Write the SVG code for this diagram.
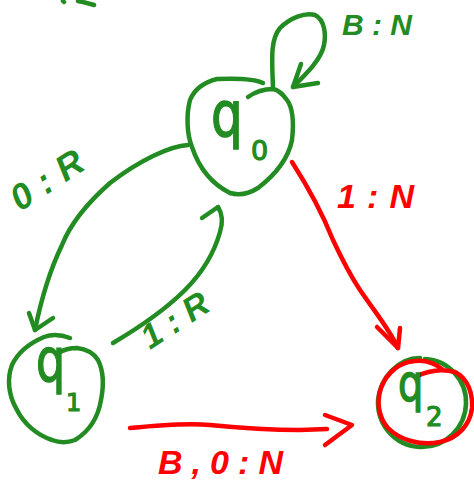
<svg xmlns="http://www.w3.org/2000/svg" width="474" height="480" viewBox="0 0 474 480">
<style>
.g{fill:none;stroke:#228b22;stroke-width:4.5;stroke-linecap:round;stroke-linejoin:round}
.r{fill:none;stroke:#f00;stroke-width:4.5;stroke-linecap:round;stroke-linejoin:round}
.q{font-family:"DejaVu Sans",sans-serif;fill:#228b22;stroke:#228b22;stroke-width:1.2}
.lg{font-family:"Liberation Sans",sans-serif;font-weight:bold;font-style:italic;fill:#228b22}
.lr{font-family:"Liberation Sans",sans-serif;font-weight:bold;font-style:italic;fill:#f00}
</style>
<rect width="474" height="480" fill="#fff"/>
<path class="g" d="M63,1 L64,2 M78,1 Q88,3 94,5"/>
<g id="connectors">
<g id="e-q0-q0">
<path class="g" d="M273,88 C272,60 270,40 280,28 C290,18 305,12 315,15 C325,20 326,35 324,45 C321,60 305,75 293,87"/>
<path class="g" d="M301,64 L293,87 L318,83"/>
<text class="lg" x="342" y="35" font-size="30" textLength="70" lengthAdjust="spacing">B:N</text>
</g>
<g id="e-q0-q1">
<path class="g" d="M188,145 C170,146 140,160 110,183 C85,205 70,225 62,245 C50,270 42,295 35,330"/>
<path class="g" d="M29,313 L35,330 L53,318"/>
<text class="lg" x="0" y="0" font-size="36" textLength="80" lengthAdjust="spacing" transform="translate(20,212) rotate(-33)">0:R</text>
</g>
<g id="e-q1-q0">
<path class="g" d="M113,343 C140,327 165,310 185,290 C205,270 215,250 220,232 C223,222 222,213 218,207"/>
<path class="g" d="M202,218 L218,207"/>
<text class="lg" x="0" y="0" font-size="34" textLength="74" lengthAdjust="spacing" transform="translate(150,350) rotate(-33)">1:R</text>
</g>
<g id="e-q0-q2">
<path class="r" d="M292,162 C310,190 325,220 333,240 C340,255 350,275 360,290 C375,312 390,330 398,348"/>
<path class="r" d="M377,327 L398,348 L400,328"/>
<text class="lr" x="337" y="208" font-size="34" textLength="77" lengthAdjust="spacing">1:N</text>
</g>
<g id="e-q1-q2">
<path class="r" d="M130,428 C160,425 190,423 210,425 C240,428 270,430 300,430 L327,429"/>
<path class="r" d="M325,415 L352,425 L325,445"/>
<text class="lr" x="158" y="474" font-size="34" textLength="125" lengthAdjust="spacing">B,0:N</text>
</g>
</g>
<g id="q0">
<path class="g" d="M263,83 C255,79 240,78 217,79 C205,82 195,88 190,100 C186,115 187,135 192,147 C198,165 210,183 230,193 C240,196 250,193 258,188 C275,175 288,160 292,140 C294,122 293,108 287,100 C282,93 278,90 273,89 C262,89 255,92 248,97"/>
<text class="q" x="0" y="0" font-size="50" transform="translate(211,136) scale(1,1.25)">q</text>
<text class="q" x="251" y="160" font-size="27">0</text>
</g>
<g id="q1">
<path class="g" d="M70,338 C62,335 52,334 44,337 C30,343 18,352 12,365 C7,378 8,395 17,410 C24,424 37,435 52,440 C60,443 67,443 75,440 C88,432 98,418 101,400 C104,385 103,370 98,360 C93,352 86,349 77,348 C70,348 63,350 58,353"/>
<text class="q" x="0" y="0" font-size="46" transform="translate(36,381) scale(1,1.3)">q</text>
<text class="q" x="66" y="411" font-size="24">1</text>
</g>
<g id="q2">
<path class="g" d="M420,358 C398,358 380,378 378,400 C377,425 395,446 420,447 C445,448 465,428 466,404 C467,380 448,360 425,359"/>
<path class="r" d="M415,377 C425,372 440,368 455,372 C467,378 473,392 472,408 C470,425 458,438 440,442 C420,446 400,440 388,428 C379,418 376,402 381,388 C387,372 400,362 415,361 C425,360 435,363 443,370"/>
<text class="q" x="0" y="0" font-size="40" transform="translate(398,401) scale(1,1.3)">q</text>
<text class="q" x="426" y="426" font-size="26">2</text>
</g>
</svg>
